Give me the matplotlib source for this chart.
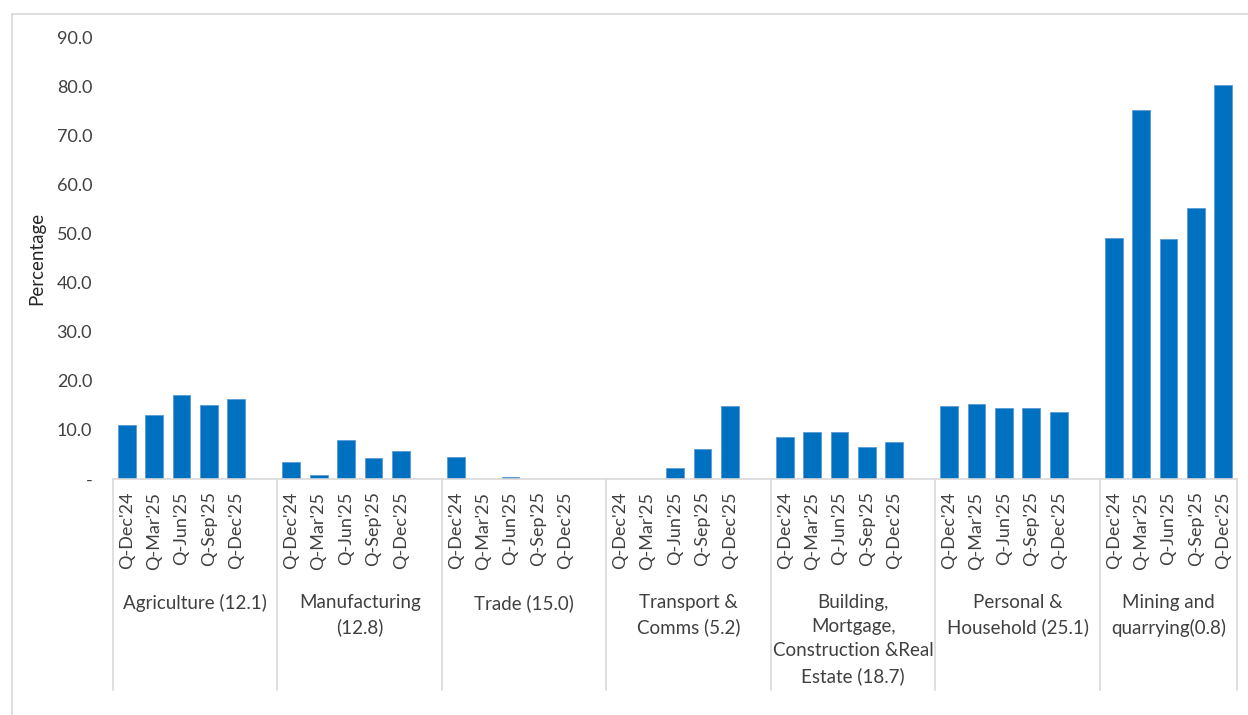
import numpy as np
import matplotlib.pyplot as plt
from matplotlib.lines import Line2D
from matplotlib.transforms import blended_transform_factory

plt.rcParams['font.family'] = ['Lato', 'DejaVu Sans']

quarters = ["Q-Dec'24", "Q-Mar'25", "Q-Jun'25", "Q-Sep'25", "Q-Dec'25"]
sectors = ["Agriculture (12.1)", "Manufacturing\n(12.8)", "Trade (15.0)",
           "Transport &\nComms (5.2)",
           "Building,\nMortgage,\nConstruction &Real\nEstate (18.7)",
           "Personal &\nHousehold (25.1)", "Mining and\nquarrying(0.8)"]

agriculture = [11.0, 13.0, 17.1, 15.1, 16.2]
manufacturing = [3.4, 0.8, 7.9, 4.2, 5.7]
trade = [4.5, 0.0, 0.4, 0.0, 0.0]
transport = [0.0, 0.0, 2.3, 6.1, 14.9]
building = [8.6, 9.6, 9.6, 6.6, 7.6]
personal = [14.9, 15.2, 14.5, 14.5, 13.7]
mining = [49.0, 75.1, 48.8, 55.2, 80.2]

series = [agriculture, manufacturing, trade, transport, building, personal, mining]

W, H = 1248, 715
fig = plt.figure(figsize=(W / 100, H / 100), dpi=100)
left, right, top, base = 113, 1237, 37, 479
ax = fig.add_axes([left / W, 1 - base / H, (right - left) / W, (base - top) / H])

txt = '#404040'
grid = '#D9D9D9'
blue = '#0070C0'

# each sector takes 6 slots: 5 quarters plus one empty gap
positions, values, ticks = [], [], []
for g, vals in enumerate(series):
    for i, v in enumerate(vals):
        positions.append(g * 6 + i)
        values.append(v)
        ticks.append(quarters[i])

ax.bar(positions, values, width=0.65, color=blue, edgecolor='#5B9BD5', linewidth=0.6)

ax.set_xlim(-0.5, 40.5)
ax.set_ylim(0, 90)
ax.set_yticks(np.arange(0, 91, 10))
ax.set_yticklabels(['-' if t == 0 else f'{t:.1f}' for t in range(0, 91, 10)])
ax.set_xticks(positions)
ax.set_xticklabels(ticks, rotation=90, ha='center', va='top')
ax.tick_params(axis='y', length=0, pad=15, labelsize=13, labelcolor=txt)
ax.tick_params(axis='x', length=0, pad=9, labelsize=13, labelcolor=txt)

for s in ['top', 'right', 'left']:
    ax.spines[s].set_visible(False)
ax.spines['bottom'].set_color(grid)
ax.spines['bottom'].set_linewidth(1.2)

# second level of the category axis
trans = blended_transform_factory(ax.transData, ax.transAxes)
bounds = [g * 6 - 0.5 for g in range(7)] + [40.5]
for b in bounds:
    ax.add_line(Line2D([b, b], [0, -0.477], transform=trans, color=grid,
                       lw=1.2, clip_on=False))
for g, name in enumerate(sectors):
    cx = (bounds[g] + bounds[g + 1]) / 2
    ax.text(cx, -0.26, name, transform=trans, ha='center', va='top',
            fontsize=13.5, color=txt, linespacing=1.52, clip_on=False)

fig.text(37 / W, 1 - 258 / H, 'Percentage', rotation=90, ha='center',
         va='center', fontsize=13.5, color='#262626')

# chart area border
fig.add_artist(Line2D([12 / W, 12 / W], [0, 1 - 14 / H], color=grid, lw=1.2))
fig.add_artist(Line2D([12 / W, 1], [1 - 14 / H, 1 - 14 / H], color=grid, lw=1.2))

fig.savefig('out.png', dpi=100)
